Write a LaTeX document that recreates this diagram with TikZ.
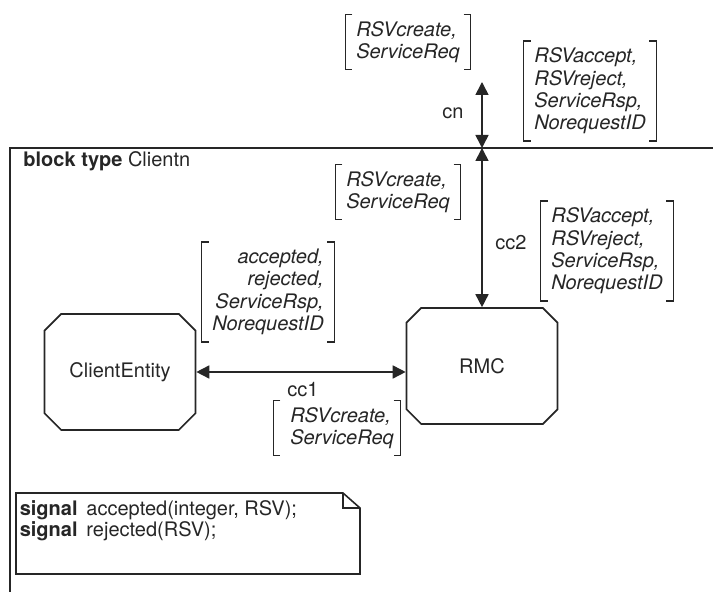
\documentclass[tikz,border=0pt]{standalone}
\usepackage{fontspec}
\setmainfont{TeX Gyre Heros}
\usetikzlibrary{arrows.meta}
\usetikzlibrary{shapes.misc}

\begin{document}
\begin{tikzpicture}[x=0.5pt,y=-0.5pt,color=black!85,line width=0.8pt,>={Triangle[length=6.5pt,width=6.5pt]},
  proc node/.style={chamfered rectangle,chamfered rectangle xsep=7.5pt,draw,minimum width=75.5pt,minimum height=58pt,inner sep=0pt,font=\fontsize{10pt}{12pt}\selectfont},
  sig set/.style={align=left,inner xsep=5pt,inner ysep=3pt,font=\fontsize{10pt}{11.2pt}\selectfont\itshape},
  chan label/.style={font=\fontsize{10pt}{12pt}\selectfont},
  brk/.style={line width=0.7pt}]
\useasboundingbox (0,0) rectangle (713,592);

	% block frame, only its top and left side are in view
	\draw[line width=0.9pt] (10,592) -- (10,148) -- (713,148);
	\node[anchor=base west,font=\fontsize{10pt}{12pt}\selectfont] (title) at (16,167) {\textbf{block type} Clientn};

	\node[proc node] (ce) at (120,372) {ClientEntity};
	\node[proc node] (rmc) at (482,366) {RMC};

	\coordinate (gate) at (482,148);
	\coordinate (envt) at (482,82);

	\path[every edge/.style={draw,<->}]
	(envt) edge (gate)
	(gate) edge (rmc.north)
	(ce.east) edge (ce.east -| rmc.west);

	\node[chan label] (cn) at (453,113) {cn};
	\node[chan label] (cc2) at (511,243) {cc2};
	\node[chan label] (cc1) at (303,390) {cc1};

	\node[sig set] (cnout) at (408,42) {RSVcreate,\\ServiceReq};
	\node[sig set] (cnin) at (590,91) {RSVaccept,\\RSVreject,\\ServiceRsp,\\NorequestID};
	\node[sig set] (cc2out) at (398,192) {RSVcreate,\\ServiceReq};
	\node[sig set] (cc2in) at (607,251) {RSVaccept,\\RSVreject,\\ServiceRsp,\\NorequestID};
	\node[sig set,align=right] (cc1in) at (268,292) {accepted,\\rejected,\\ServiceRsp,\\NorequestID};
	\node[sig set,inner xsep=3pt] (cc1out) at (337,428) {\hspace*{5pt}RSVcreate,\\\hspace*{5pt}ServiceReq};

	% square brackets round each signal list
	\foreach \s in {cnout,cnin,cc2out,cc2in,cc1in,cc1out}
	  \draw[brk] ([xshift=3.5pt]\s.north west) -| (\s.south west) -- ++(3.5pt,0)
	             ([xshift=-3.5pt]\s.north east) -| (\s.south east) -- ++(-3.5pt,0);

	% text symbol with the signal definitions
	\draw (16,493) -- (343,493) -- (360,508) -- (360,574) -- (16,574) -- cycle;
	\draw[line width=0.6pt] (343,493) -- (343,508) -- (360,508);
	\node[anchor=north west,align=left,inner sep=2pt,font=\fontsize{10pt}{10.5pt}\selectfont] (decl) at (15,496)
	  {\textbf{signal}\, accepted(integer, RSV);\\\textbf{signal}\, rejected(RSV);};

\end{tikzpicture}
\end{document}
